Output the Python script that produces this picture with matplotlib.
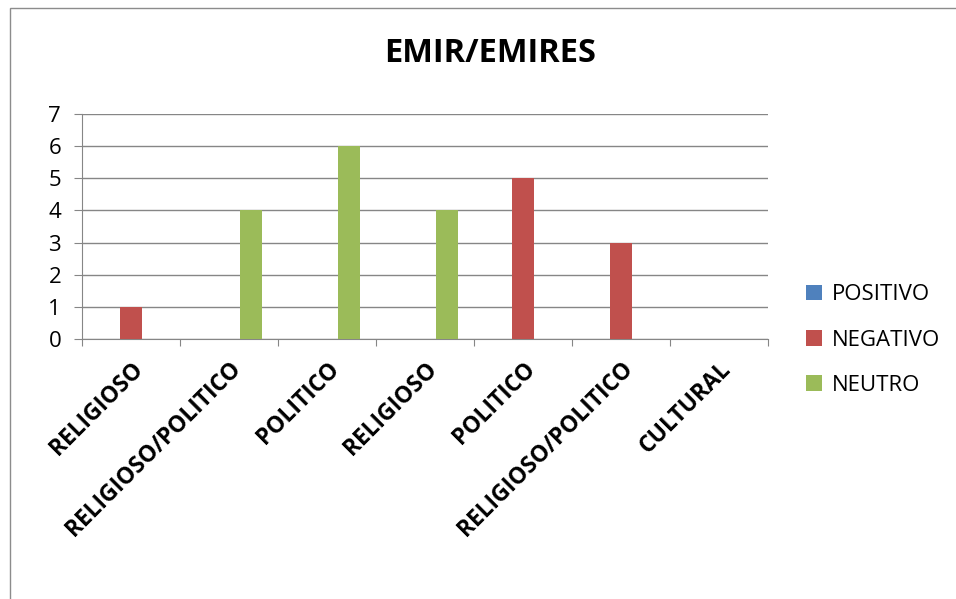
import matplotlib.pyplot as plt
from matplotlib.patches import Rectangle
import numpy as np

# data
categories = ['RELIGIOSO', 'RELIGIOSO/POLITICO', 'POLITICO', 'RELIGIOSO',
              'POLITICO', 'RELIGIOSO/POLITICO', 'CULTURAL']
series_names = ['POSITIVO', 'NEGATIVO', 'NEUTRO']
positivo = [0, 0, 0, 0, 0, 0, 0]
negativo = [1, 0, 0, 0, 5, 3, 0]
neutro = [0, 4, 6, 4, 0, 0, 0]
colors = ['#4F81BD', '#C0504D', '#9BBB59']

plt.rcParams['font.family'] = ['Open Sans', 'DejaVu Sans']

fig = plt.figure(figsize=(9.56, 5.99), dpi=100)
# outer chart border
fig.patches.append(Rectangle((10 / 956, -0.01), 1.0, 1 - 8 / 599 + 0.01,
                             transform=fig.transFigure, fill=False,
                             edgecolor='#8c8c8c', linewidth=1.0))

ax = fig.add_axes([82 / 956, 1 - 339 / 599, (768 - 82) / 956, (339 - 114) / 599])

x = np.arange(len(categories))
w = 1 / 4.5
for k, (vals, name) in enumerate(zip([positivo, negativo, neutro], series_names)):
    ax.bar(x + (k - 1) * w, vals, width=w, color=colors[k], label=name, zorder=3)

ax.set_xlim(-0.5, len(categories) - 0.5)
ax.set_ylim(0, 7)
ax.set_yticks(range(0, 8))
ax.yaxis.grid(True, color='#868686', linewidth=1.0, zorder=0)
ax.tick_params(axis='y', length=6, color='#868686', labelsize=16, pad=9)
ax.set_xticks(np.arange(-0.5, len(categories)), minor=False)
ax.set_xticklabels([])
ax.tick_params(axis='x', length=5, color='#868686')
ax.set_xticks(x, minor=True)
ax.set_xticklabels(categories, minor=True, rotation=45, ha='right',
                   rotation_mode='anchor', fontsize=16.5, fontweight='bold')
ax.tick_params(axis='x', which='minor', length=0, pad=13)
for s in ['top', 'right']:
    ax.spines[s].set_visible(False)
for s in ['left', 'bottom']:
    ax.spines[s].set_color('#868686')

fig.text(490 / 956, 1 - 53 / 599, 'EMIR/EMIRES', ha='center', va='center',
         fontsize=23.5, fontweight='bold')

ax.legend(loc='center left', bbox_to_anchor=(786 / 956, 1 - 340 / 599),
          bbox_transform=fig.transFigure, frameon=False, fontsize=16,
          handlelength=0.7, handleheight=0.7, handletextpad=0.45,
          labelspacing=1.1)

fig.savefig('out.png', dpi=100)
